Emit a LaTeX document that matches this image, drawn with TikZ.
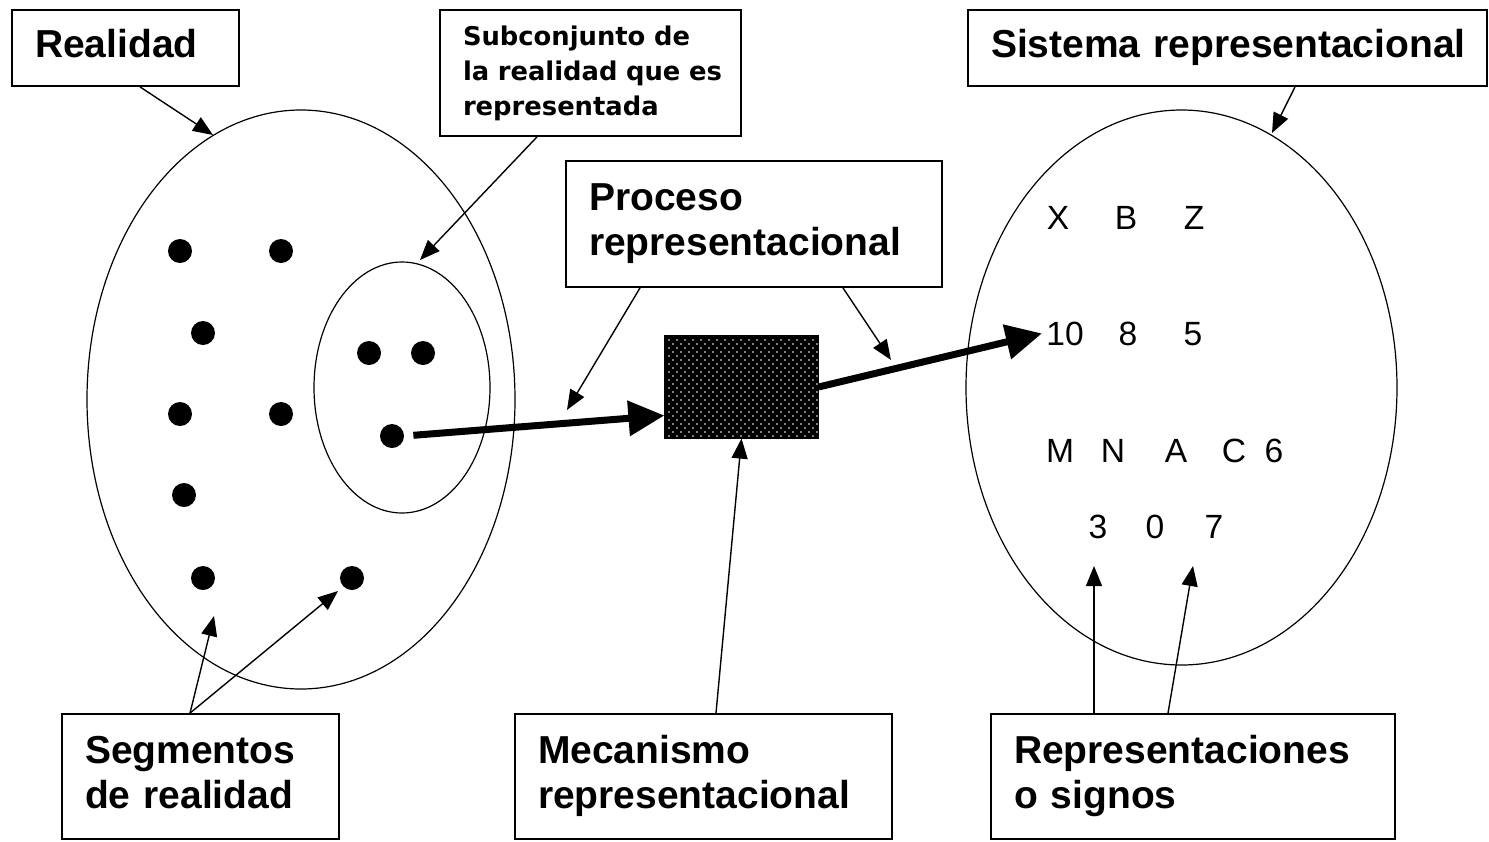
\documentclass[tikz,border=0pt]{standalone}
\usepackage{fontspec}
\setmainfont{Liberation Sans}
\newfontfamily\subfont{DejaVu Sans}
\usetikzlibrary{arrows.meta,shapes.geometric,calc}
\tikzset{
  lbl/.style={draw, line width=0.9pt, inner xsep=11.5pt, inner ysep=0pt, align=left,
    font=\fontsize{19.5}{22.5}\selectfont\bfseries},
  smalllbl/.style={draw, line width=0.9pt, inner xsep=11.5pt, inner ysep=0pt, align=left,
    font=\subfont\bfseries\fontsize{12.9}{17.5}\selectfont},
  dot/.style={circle, fill=black, inner sep=0pt, minimum size=12pt},
  sym/.style={anchor=base, inner sep=0pt, font=\fontsize{16.8}{20}\selectfont},
  oval/.style={ellipse, draw, line width=0.6pt, inner sep=0pt, outer sep=0pt},
  thinarrow/.style={line width=0.7pt, -{Triangle[length=10pt,width=8pt]}},
  thickarrow/.style={line width=3.5pt, -{Triangle[length=18pt,width=17pt]}},
  mechbox/.style={draw, line width=0.6pt, fill=black, inner sep=0pt, minimum width=76.5pt, minimum height=51pt},
}
\begin{document}
\begin{tikzpicture}[x=0.5pt,y=-0.5pt]
\useasboundingbox[fill=white] (0,0) rectangle (1489,841);

% ellipses
\node[oval, minimum width=214pt, minimum height=289.5pt] (reality) at (301,399.5) {};
\node[oval, minimum width=88pt, minimum height=125.5pt] (subset) at (402,387.5) {};
\node[oval, minimum width=215.5pt, minimum height=277.5pt] (system) at (1181.5,387.5) {};

% label boxes
\node[lbl, minimum height=38pt, text width=90.5pt] (lreal) at (125.5,48) {\strut Realidad};
\node[smalllbl, minimum height=63pt, text width=127.5pt] (lsub) at (590.5,73) {\strut \mbox{Subconjunto de}\\\mbox{la realidad que es}\\representada\strut};
\node[lbl, minimum height=38pt, text width=236.5pt] (lsys) at (1227.5,48) {\strut\mbox{Sistema representacional}};
\node[lbl, minimum height=63pt, text width=165pt] (lproc) at (754,224) {\strut Proceso\\representacional\strut};
\node[lbl, minimum height=62.5pt, text width=115.5pt] (lseg) at (200.5,776.5) {\strut Segmentos\\de realidad\strut};
\node[lbl, minimum height=62.5pt, text width=165.5pt] (lmech) at (703.5,776.5) {\strut Mecanismo\\representacional\strut};
\node[lbl, minimum height=62.5pt, text width=179pt] (lrep) at (1193,776.5) {\strut Representaciones\\o signos\strut};

% dots
\node[dot] (d1) at (180,251) {};
\node[dot] (d2) at (281,251) {};
\node[dot] (d3) at (203,333) {};
\node[dot] (d4) at (369,353) {};
\node[dot] (d5) at (423,353) {};
\node[dot] (d6) at (180,414) {};
\node[dot] (d7) at (281,414) {};
\node[dot] (d8) at (392,436) {};
\node[dot] (d9) at (184,495) {};
\node[dot] (d10) at (203,578) {};
\node[dot] (d11) at (352,578) {};

% mechanism box
\node[mechbox] (mech) at (741.5,387) {};
\begin{scope}
  \clip (mech.south west) rectangle (mech.north east);
  \foreach \r in {0,...,25} {
    \pgfmathsetmacro\off{mod(\r,2)*4}
    \foreach \c in {0,...,19} {
      \fill[white] ({669+\c*8+\off},{340+\r*4}) circle (0.4pt);
    }
  }
\end{scope}

% symbols
\node[sym] (sX) at (1058,229) {X};
\node[sym] (sB) at (1126,229) {B};
\node[sym] (sZ) at (1194,229) {Z};
\node[sym] (s10) at (1065,345) {10};
\node[sym] (s8) at (1128,345) {8};
\node[sym] (s5) at (1193,345) {5};
\node[sym] (sM) at (1060,462) {M};
\node[sym] (sN) at (1113,462) {N};
\node[sym] (sA) at (1176,462) {A};
\node[sym] (sC) at (1234,462) {C};
\node[sym] (s6) at (1274,462) {6};
\node[sym] (s3) at (1098,538) {3};
\node[sym] (s0) at (1155,538) {0};
\node[sym] (s7) at (1214,538) {7};

% arrow tip coordinates
\coordinate (tReal) at (213,135);
\coordinate (tSub) at (420,260);
\coordinate (tSys) at (1272,133);
\coordinate (tProcL) at (567,410);
\coordinate (tProcR) at (891,360);
\coordinate (tSeg1) at (214,616);
\coordinate (tSeg2) at (338,591);
\coordinate (tRep1) at (1094,566);
\coordinate (tRep2) at (1193,566);

% thin arrows
\draw[thinarrow] ([xshift=7.25pt]lreal.south) -- (tReal);
\draw[thinarrow] ([xshift=-26.75pt]lsub.south) -- (tSub);
\draw[thinarrow] ([xshift=33.75pt]lsys.south) -- (tSys);
\draw[thinarrow] ([xshift=-57pt]lproc.south) -- (tProcL);
\draw[thinarrow] ([xshift=44.5pt]lproc.south) -- (tProcR);
\draw[thinarrow] ([xshift=-5.25pt]lseg.north) -- (tSeg1);
\draw[thinarrow] ([xshift=-5.25pt]lseg.north) -- (tSeg2);
\draw[thinarrow] ([xshift=6.25pt]lmech.north) -- (mech.south);
\draw[thinarrow] ([xshift=-49.5pt]lrep.north) -- (tRep1);
\draw[thinarrow] ([xshift=-12.5pt]lrep.north) -- (tRep2);

% thick arrows
\draw[thickarrow, shorten <=4.5pt] (d8.east) -- ([yshift=-14.25pt]mech.west);
\draw[thickarrow] (mech.east) -- ([xshift=-2pt]s10.west);
\end{tikzpicture}
\end{document}
